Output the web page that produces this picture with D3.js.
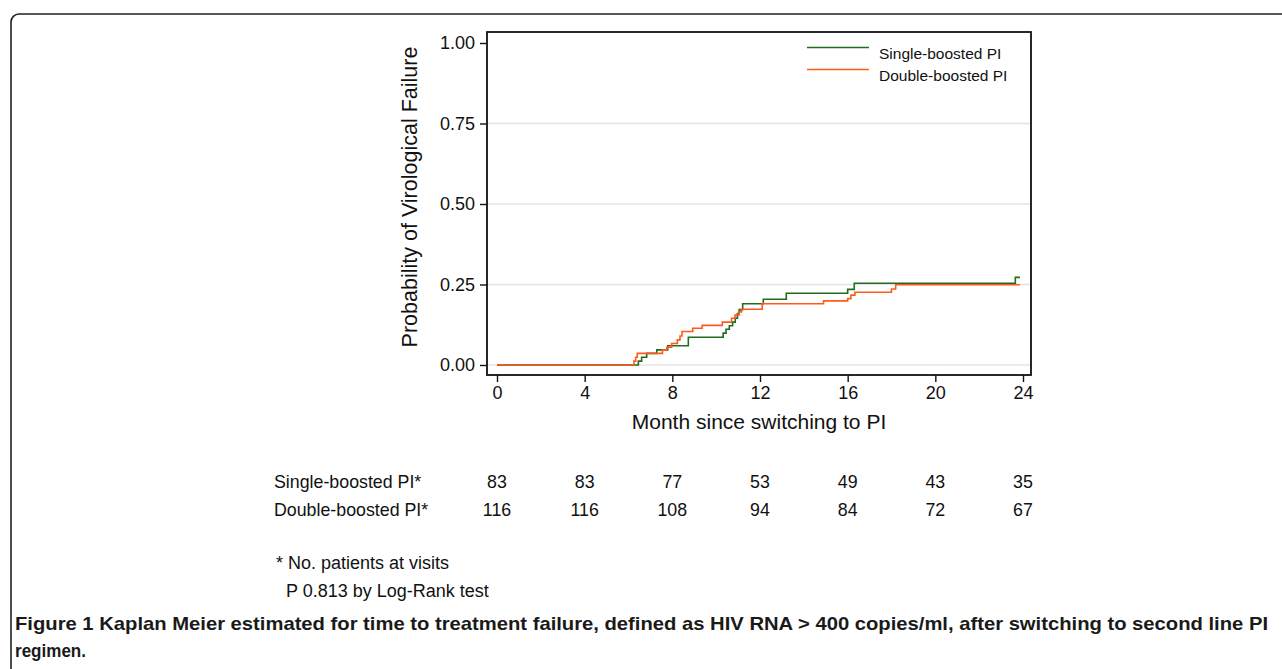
<!DOCTYPE html>
<html><head><meta charset="utf-8">
<script src="https://cdn.jsdelivr.net/npm/d3@7"></script>
<style>body{margin:0;background:#fff;} svg{display:block;font-family:"Liberation Sans",Arial,Helvetica,sans-serif;}</style>
</head><body>
<script>
// ---- data ----
const singleTimes = [0, 6.45, 6.6, 6.83, 7.29, 7.79, 8.73, 10.32, 10.45, 10.6, 10.75, 10.87, 10.97, 11.05, 11.21, 12.15, 13.2, 16.0, 16.3, 23.65, 23.86];
const singleProbs = [0, 0.012, 0.024, 0.036, 0.047, 0.06, 0.086, 0.099, 0.111, 0.122, 0.133, 0.145, 0.16, 0.172, 0.19, 0.204, 0.223, 0.235, 0.254, 0.272, 0.272];
const doubleTimes = [0, 6.25, 6.33, 6.4, 7.55, 7.75, 7.97, 8.23, 8.35, 8.44, 8.93, 9.36, 10.28, 10.7, 10.86, 11.04, 11.16, 12.1, 14.9, 16.0, 16.15, 16.33, 18.0, 18.19, 23.86];
const doubleProbs = [0, 0.012, 0.024, 0.036, 0.047, 0.055, 0.067, 0.078, 0.09, 0.104, 0.114, 0.123, 0.133, 0.145, 0.155, 0.165, 0.173, 0.19, 0.199, 0.206, 0.217, 0.226, 0.236, 0.249, 0.249];
const seriesNames = ["Single-boosted PI", "Double-boosted PI"];
const xTicks = [0, 4, 8, 12, 16, 20, 24];
const yTicks = [0, 0.25, 0.5, 0.75, 1.0];
const gridTicks = [0, 0.25, 0.5, 0.75];
const riskSingle = [83, 83, 77, 53, 49, 43, 35];
const riskDouble = [116, 116, 108, 94, 84, 72, 67];
const riskLabels = ["Single-boosted PI*", "Double-boosted PI*"];
const footnotes = ["* No. patients at visits", "P 0.813 by Log-Rank test"];
const captionBold = "Figure 1";
const captionLine1 = " Kaplan Meier estimated for time to treatment failure, defined as HIV RNA > 400 copies/ml, after switching to second line PI";
const captionLine2 = "regimen.";

const green = "#226b1f", orange = "#ff5a1e";
const W = 1282, H = 669;
const svg = d3.select("body").append("svg").attr("width", W).attr("height", H);

// outer rounded frame
svg.append("rect").attr("x", 11).attr("y", 14).attr("width", 1320).attr("height", 720)
  .attr("rx", 8).attr("fill", "none").attr("stroke", "#222").attr("stroke-width", 1.6);

const frame = {l: 487, t: 32, r: 1031, b: 375};
const x = d3.scaleLinear().domain([0, 24]).range([497, 1023]);
const y = d3.scaleLinear().domain([0, 1]).range([365, 43]);

// gridlines
svg.append("g").selectAll("line").data(gridTicks).join("line")
  .attr("x1", frame.l).attr("x2", frame.r).attr("y1", d => y(d)).attr("y2", d => y(d))
  .attr("stroke", "#e4e4e4").attr("stroke-width", 1.5);

// curves
const line = d3.line().x(d => x(d[0])).y(d => y(d[1])).curve(d3.curveStepAfter);
const sData = singleTimes.map((t, i) => [t, singleProbs[i]]);
const dData = doubleTimes.map((t, i) => [t, doubleProbs[i]]);
svg.append("path").datum(sData).attr("d", line).attr("fill", "none").attr("stroke", green).attr("stroke-width", 1.6);
svg.append("path").datum(dData).attr("d", line).attr("fill", "none").attr("stroke", orange).attr("stroke-width", 1.6);

// plot frame
svg.append("rect").attr("x", frame.l).attr("y", frame.t).attr("width", frame.r - frame.l).attr("height", frame.b - frame.t)
  .attr("fill", "none").attr("stroke", "#111").attr("stroke-width", 1.8);

// axes
const xAxis = svg.append("g").attr("transform", `translate(0,${frame.b})`)
  .call(d3.axisBottom(x).tickValues(xTicks).tickSize(7).tickPadding(4).tickFormat(d3.format("d")));
xAxis.select(".domain").remove();
xAxis.selectAll("line").attr("stroke", "#111").attr("stroke-width", 1.4);
xAxis.selectAll("text").attr("font-size", 18).attr("fill", "#111").attr("font-family", "Liberation Sans, Arial, sans-serif");

const yAxis = svg.append("g").attr("transform", `translate(${frame.l},0)`)
  .call(d3.axisLeft(y).tickValues(yTicks).tickSize(7).tickPadding(5).tickFormat(d3.format(".2f")));
yAxis.select(".domain").remove();
yAxis.selectAll("line").attr("stroke", "#111").attr("stroke-width", 1.4);
yAxis.selectAll("text").attr("font-size", 18).attr("fill", "#111").attr("font-family", "Liberation Sans, Arial, sans-serif");

// axis titles
svg.append("text").attr("x", 759).attr("y", 429).attr("text-anchor", "middle")
  .attr("font-size", 21).attr("fill", "#111").text("Month since switching to PI");
svg.append("text").attr("transform", "translate(417,197) rotate(-90)").attr("text-anchor", "middle")
  .attr("font-size", 21.5).attr("fill", "#111").text("Probability of Virological Failure");

// legend
const legY = [47.5, 69.5];
const legColors = [green, orange];
seriesNames.forEach((n, i) => {
  svg.append("line").attr("x1", 807).attr("x2", 869).attr("y1", legY[i]).attr("y2", legY[i])
    .attr("stroke", legColors[i]).attr("stroke-width", 1.6);
  svg.append("text").attr("x", 879).attr("y", legY[i] + 11).attr("font-size", 15.5).attr("fill", "#111").text(n);
});

// risk table
const rows = [riskSingle, riskDouble];
const rowY = [488, 516];
rows.forEach((vals, r) => {
  svg.append("text").attr("x", 274).attr("y", rowY[r]).attr("font-size", 17.8).attr("fill", "#111").text(riskLabels[r]);
  svg.append("g").selectAll("text").data(vals).join("text")
    .attr("x", (d, i) => x(xTicks[i])).attr("y", rowY[r]).attr("text-anchor", "middle")
    .attr("font-size", 17.8).attr("fill", "#111").text(d => d);
});

// footnotes
svg.append("text").attr("x", 276).attr("y", 569).attr("font-size", 18).attr("fill", "#111").text(footnotes[0]);
svg.append("text").attr("x", 286).attr("y", 597).attr("font-size", 18).attr("fill", "#111").text(footnotes[1]);

// caption
const cap = svg.append("text").attr("x", 15).attr("y", 630).attr("font-size", 18.5).attr("fill", "#1a1a1a")
  .attr("font-weight", "bold")
  .attr("font-family", "Liberation Sans Narrow, Arial Narrow, Liberation Sans, sans-serif")
  .attr("textLength", 1253).attr("lengthAdjust", "spacingAndGlyphs");
cap.append("tspan").text(captionBold);
cap.append("tspan").text(captionLine1);
svg.append("text").attr("x", 15).attr("y", 657).attr("font-size", 18.5).attr("fill", "#1a1a1a").attr("font-weight", "bold")
  .attr("font-family", "Liberation Sans Narrow, Arial Narrow, Liberation Sans, sans-serif")
  .attr("textLength", 71).attr("lengthAdjust", "spacingAndGlyphs").text(captionLine2);
</script>
</body></html>
